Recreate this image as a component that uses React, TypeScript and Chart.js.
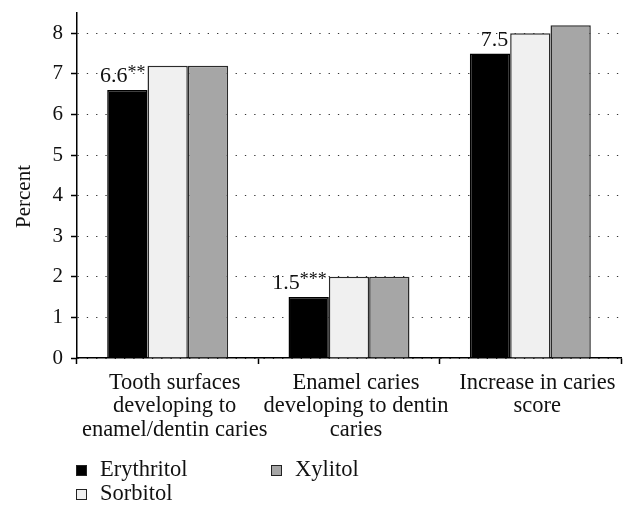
import React, { useEffect, useRef } from 'react';
import { Chart, registerables } from 'chart.js';

Chart.register(...registerables);

const categories = [
  ['Tooth surfaces', 'developing to', 'enamel/dentin caries'],
  ['Enamel caries', 'developing to dentin', 'caries'],
  ['Increase in caries', 'score'],
];
const seriesNames = ['Erythritol', 'Sorbitol', 'Xylitol'];
const erythritol = [6.6, 1.5, 7.5];
const sorbitol = [7.2, 2.0, 8.0];
const xylitol = [7.2, 2.0, 8.2];
const annotationValues = ['6.6', '1.5', '7.5'];
const annotationStars = ['**', '***', ''];
const yTickValues = [0, 1, 2, 3, 4, 5, 6, 7, 8];
const yTitle = 'Percent';

const FONT = "'Liberation Serif', 'Times New Roman', serif";
const fills = ['#000000', '#f0f0f0', '#a6a6a6'];
const borders = ['#000000', '#2a2a2a', '#2a2a2a'];

const annotationPlugin = {
  id: 'annotations',
  afterDatasetsDraw(chart: any) {
    const ctx = chart.ctx;
    const meta = chart.getDatasetMeta(0);
    ctx.save();
    ctx.fillStyle = '#111';
    ctx.textBaseline = 'alphabetic';
    meta.data.forEach((bar: any, i: number) => {
      const right = bar.x + bar.width / 2 - 2;
      const base = bar.y - 8;
      ctx.font = `18px ${FONT}`;
      const sw = annotationStars[i] ? ctx.measureText(annotationStars[i]).width : 0;
      ctx.textAlign = 'right';
      if (annotationStars[i]) ctx.fillText(annotationStars[i], right, base - 4);
      ctx.font = `22px ${FONT}`;
      ctx.fillText(annotationValues[i], right - sw, base);
    });
    ctx.restore();
  },
};

const yTitlePlugin = {
  id: 'yTitle',
  afterDraw(chart: any) {
    const ctx = chart.ctx;
    const area = chart.chartArea;
    ctx.save();
    ctx.translate(24, (area.top + area.bottom) / 2 + 11);
    ctx.rotate(-Math.PI / 2);
    ctx.font = `21px ${FONT}`;
    ctx.fillStyle = '#111';
    ctx.textAlign = 'center';
    ctx.textBaseline = 'middle';
    ctx.fillText(yTitle, 0, 0);
    ctx.restore();
  },
};

const legendPlugin = {
  id: 'gridLegend',
  afterDraw(chart: any) {
    const ctx = chart.ctx;
    const ds = chart.data.datasets;
    const cols = [76, 271];
    const rows = [465, 489];
    ctx.save();
    ctx.font = `22.5px ${FONT}`;
    ctx.textBaseline = 'alphabetic';
    ctx.textAlign = 'left';
    ds.forEach((d: any, i: number) => {
      const col = Math.floor(i / 2);
      const row = i % 2;
      const x = cols[col];
      const y = rows[row];
      ctx.fillStyle = d.backgroundColor;
      ctx.fillRect(x, y, 11, 11);
      ctx.strokeStyle = '#222';
      ctx.lineWidth = 1;
      ctx.strokeRect(x + 0.5, y + 0.5, 10, 10);
      ctx.fillStyle = '#111';
      ctx.fillText(d.label, x + 24, y + 10.5);
    });
    ctx.restore();
  },
};

export default function App() {
  const ref = useRef<HTMLCanvasElement | null>(null);
  useEffect(() => {
    if (!ref.current) return;
    const values = [erythritol, sorbitol, xylitol];
    const chart = new Chart(ref.current, {
      type: 'bar',
      data: {
        labels: categories,
        datasets: seriesNames.map((name, i) => ({
          label: name,
          data: values[i],
          backgroundColor: fills[i],
          borderColor: borders[i],
          borderWidth: 1.5,
          barPercentage: 1,
          categoryPercentage: 0.667,
        })),
      },
      options: {
        animation: false,
        responsive: true,
        maintainAspectRatio: false,
        layout: { padding: { top: 13, right: 15, left: 0, bottom: 0 } },
        plugins: {
          legend: { display: false },
          tooltip: { enabled: false },
        },
        scales: {
          x: {
            afterFit: (s: any) => { s.height = 159; },
            grid: {
              display: true,
              drawOnChartArea: false,
              drawTicks: true,
              tickLength: 6,
              tickColor: '#000',
              tickWidth: 1.5,
              offset: true,
            },
            border: { display: true, color: '#000', width: 1.5 },
            ticks: {
              color: '#111',
              padding: 7,
              labelOffset: 7,
              font: { family: FONT, size: 22.5, lineHeight: 1.05 },
              maxRotation: 0,
              autoSkip: false,
            },
          },
          y: {
            min: 0,
            max: 8.5,
            afterFit: (s: any) => { s.width = 77; s.paddingTop = 0; s.paddingBottom = 0; },
            afterBuildTicks: (s: any) => {
              s.ticks = yTickValues.map((v) => ({ value: v }));
            },
            grid: {
              color: '#333',
              lineWidth: 1,
              drawTicks: true,
              tickLength: 6,
              tickColor: '#000',
              tickWidth: 1.5,
              tickBorderDash: [],
            },
            border: { display: true, color: '#000', width: 1.5, dash: [1.3, 8] },
            ticks: {
              stepSize: 1,
              color: '#111',
              padding: 8,
              font: { family: FONT, size: 21 },
            },
            title: { display: false },
          },
        },
      },
      plugins: [annotationPlugin, yTitlePlugin, legendPlugin],
    });
    return () => chart.destroy();
  }, []);
  return (
    <div style={{ position: 'fixed', left: 0, top: 0, width: 636, height: 517, background: '#fff' }}>
      <canvas ref={ref} />
    </div>
  );
}
